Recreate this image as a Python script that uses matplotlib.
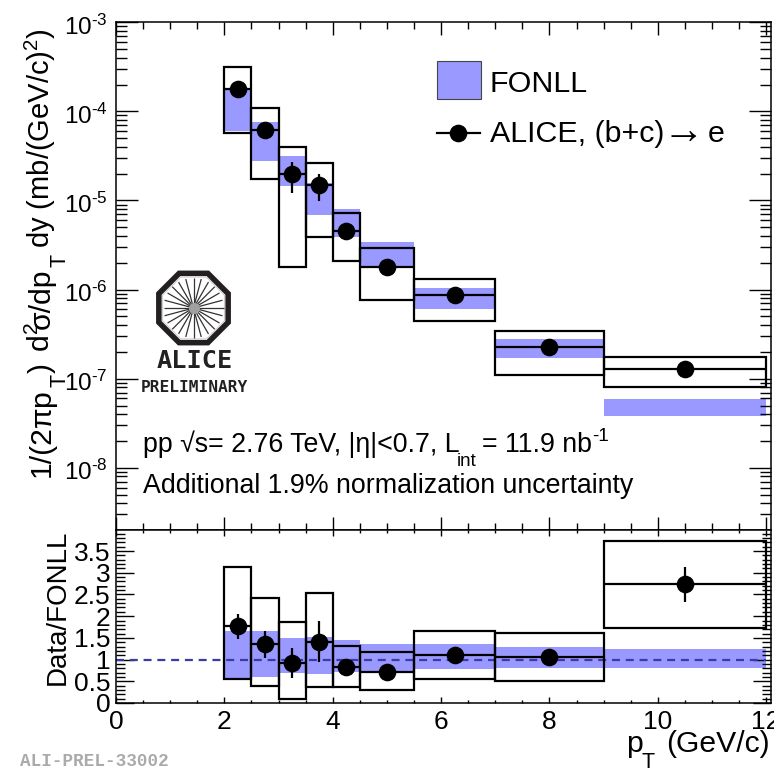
import numpy as np
import matplotlib
matplotlib.use("Agg")
import matplotlib.pyplot as plt
from matplotlib.patches import Rectangle, RegularPolygon
from matplotlib.ticker import FixedLocator, LogLocator, NullFormatter
from matplotlib.transforms import ScaledTranslation

plt.rcParams.update({
    "font.family": ["Liberation Sans", "DejaVu Sans"],
    "mathtext.fontset": "custom",
    "mathtext.rm": "Liberation Sans",
    "mathtext.it": "Liberation Sans",
    "mathtext.bf": "Liberation Sans:bold",
    "mathtext.default": "regular",
    "axes.linewidth": 1.1,
})

# ── Data ──────────────────────────────────────────────────────
bin_edges = [2, 2.5, 3, 3.5, 4, 4.5, 5.5, 7, 9, 12]
pt_centers = [2.25, 2.75, 3.25, 3.75, 4.25, 5, 6.25, 8, 10.5]

xsec = [1.78e-4, 6.12e-5, 1.96e-5, 1.49e-5, 4.52e-6, 1.78e-6, 8.79e-7, 2.26e-7, 1.29e-7]
xsec_stat_hi = [1.95e-4, 7.0e-5, 2.67e-5, 1.96e-5, 4.8e-6, 1.85e-6, 9.1e-7, 2.35e-7, 1.35e-7]
xsec_stat_lo = [1.6e-4, 4.9e-5, 1.2e-5, 9.75e-6, 4.2e-6, 1.7e-6, 8.5e-7, 2.15e-7, 1.2e-7]
xsec_sys_hi = [3.17e-4, 1.10e-4, 3.94e-5, 2.62e-5, 7.33e-6, 2.91e-6, 1.33e-6, 3.46e-7, 1.77e-7]
xsec_sys_lo = [5.66e-5, 1.73e-5, 1.79e-6, 3.94e-6, 2.08e-6, 7.59e-7, 4.44e-7, 1.11e-7, 8.13e-8]
fonll_hi = [1.78e-4, 7.58e-5, 3.15e-5, 1.56e-5, 7.93e-6, 3.4e-6, 1.05e-6, 2.77e-7, 5.85e-8]
fonll_lo = [6.05e-5, 2.79e-5, 1.46e-5, 6.88e-6, 3.9e-6, 1.78e-6, 6.05e-7, 1.7e-7, 3.8e-8]

ratio = [1.77, 1.35, 0.92, 1.41, 0.82, 0.72, 1.11, 1.05, 2.73]
ratio_stat_hi = [2.04, 1.66, 1.27, 1.88, 0.90, 0.78, 1.16, 1.09, 3.13]
ratio_stat_lo = [1.48, 1.03, 0.58, 0.94, 0.74, 0.66, 1.06, 1.01, 2.32]
ratio_sys_hi = [3.13, 2.43, 1.86, 2.53, 1.31, 1.18, 1.67, 1.61, 3.73]
ratio_sys_lo = [0.55, 0.39, 0.085, 0.37, 0.37, 0.31, 0.56, 0.51, 1.73]
ratio_fonll_hi = [1.67, 1.67, 1.49, 1.53, 1.44, 1.37, 1.35, 1.28, 1.24]
ratio_fonll_lo = [0.55, 0.60, 0.68, 0.67, 0.71, 0.72, 0.79, 0.81, 0.81]

y_decades = [1e-8, 1e-7, 1e-6, 1e-5, 1e-4, 1e-3]
y_decade_labels = ["8", "7", "6", "5", "4", "3"]
ratio_ticks = [0, 0.5, 1, 1.5, 2, 2.5, 3, 3.5]
ratio_tick_labels = ["0", "0.5", "1", "1.5", "2", "2.5", "3", "3.5"]
x_ticks = [0, 2, 4, 6, 8, 10, 12]

BAND = "#9999ff"
DASH = "#3b3ba6"
W, H = 774, 768
LABEL_FS = 21.7
NOTE_FS = 19.3
LEGEND_FS = 21.9


def px_axes(left, top, right, bottom):
    return fig.add_axes([left / W, 1 - bottom / H, (right - left) / W, (bottom - top) / H])


def draw_measurement(ax, val, st_hi, st_lo, sy_hi, sy_lo, band_hi, band_lo):
    lefts = np.array(bin_edges[:-1])
    widths = np.diff(bin_edges)
    band_hi, band_lo = np.array(band_hi), np.array(band_lo)
    sy_hi, sy_lo = np.array(sy_hi), np.array(sy_lo)
    ax.bar(lefts, band_hi - band_lo, widths, bottom=band_lo, align="edge",
           color=BAND, linewidth=0, zorder=1)
    ax.bar(lefts, sy_hi - sy_lo, widths, bottom=sy_lo, align="edge",
           fill=False, edgecolor="black", linewidth=1.6, zorder=3)
    ax.hlines(val, lefts, lefts + widths, color="black", linewidth=1.6, zorder=3)
    ax.vlines(pt_centers, st_lo, st_hi, color="black", linewidth=1.6, zorder=4)
    ax.plot(pt_centers, val, "o", color="black", markersize=12.7, markeredgewidth=0, zorder=5)


def vtext(x, y, s, size):
    # rotated text, x is the baseline and y where the text starts
    ov.text(x, y, s, rotation=90, rotation_mode="anchor", ha="left", va="baseline", fontsize=size)


def htext(x, y, s, size, ha="left"):
    ov.text(x, y, s, ha=ha, va="baseline", fontsize=size)


fig = plt.figure(figsize=(W / 100, H / 100), dpi=100, facecolor="white")

# ── Spectrum panel ────────────────────────────────────────────
ax = px_axes(116, 22.3, 771, 529.5)
ax.set_yscale("log")
draw_measurement(ax, xsec, xsec_stat_hi, xsec_stat_lo, xsec_sys_hi, xsec_sys_lo, fonll_hi, fonll_lo)
ax.set_xlim(0, 12.09)
ax.set_ylim(2.03e-9, 1e-3)
ax.set_xticks(x_ticks)
ax.xaxis.set_minor_locator(FixedLocator(np.arange(0, 12.01, 0.5)))
ax.tick_params(axis="x", which="major", direction="in", top=True, bottom=True,
               length=9.4, width=1.0, labelbottom=False)
ax.tick_params(axis="x", which="minor", direction="in", top=True, bottom=True, length=4.7, width=1.0)
ax.set_yticks(y_decades)
ax.set_yticklabels([rf"$10^{{\text{{-{e}}}}}$" for e in y_decade_labels], fontsize=17.5)
ax.yaxis.set_minor_locator(LogLocator(base=10, subs=np.arange(2, 10), numticks=12))
ax.yaxis.set_minor_formatter(NullFormatter())
ax.tick_params(axis="y", which="major", direction="in", left=True, right=True,
               length=15.8, width=1.0, pad=6)
ax.tick_params(axis="y", which="minor", direction="in", left=True, right=True, length=7.9, width=1.0)
for lab in ax.get_yticklabels():
    lab.set_transform(lab.get_transform() + ScaledTranslation(0, -2.5 / 100, fig.dpi_scale_trans))

# ── Ratio panel ───────────────────────────────────────────────
rax = px_axes(116, 530, 771, 703)
draw_measurement(rax, ratio, ratio_stat_hi, ratio_stat_lo, ratio_sys_hi, ratio_sys_lo,
                 ratio_fonll_hi, ratio_fonll_lo)
rax.hlines(1, 0, 12, color=DASH, linewidth=1.6, linestyles=(0, (3.6, 2.6)), zorder=2)
rax.set_xlim(0, 12.09)
rax.set_ylim(0, 3.985)
rax.set_xticks(x_ticks)
rax.set_xticklabels([str(t) for t in x_ticks], fontsize=19)
rax.xaxis.set_minor_locator(FixedLocator(np.arange(0, 12.01, 0.5)))
rax.tick_params(axis="x", which="major", direction="in", top=True, bottom=True,
                length=4.2, width=1.0, pad=5)
rax.tick_params(axis="x", which="minor", direction="in", top=True, bottom=True, length=2.2, width=1.0)
rax.set_yticks(ratio_ticks)
rax.set_yticklabels(ratio_tick_labels, fontsize=19)
rax.yaxis.set_minor_locator(FixedLocator(np.arange(0, 3.95, 0.1)))
rax.tick_params(axis="y", which="major", direction="in", left=True, right=True,
                length=13, width=1.0, pad=4)
rax.tick_params(axis="y", which="minor", direction="in", left=True, right=True, length=6.5, width=1.0)

# ── Overlay in picture pixels: labels, legend, logo ───────────
ov = fig.add_axes([0, 0, 1, 1], zorder=10)
ov.set_xlim(0, W)
ov.set_ylim(H, 0)
ov.axis("off")

# y title, in pieces because the subscripts hang well below the baseline
vtext(50, 477, "1/(2π", LABEL_FS)
vtext(50, 407, "p", LABEL_FS)
vtext(65, 387, "T", 15.5)
vtext(50, 373, ")", LABEL_FS)
vtext(50, 352, r"d$^{2}$", LABEL_FS)
vtext(50, 329, "σ/dp", LABEL_FS)
vtext(65, 267, "T", 15.5)
vtext(50, 248, r"dy (mb/(GeV/c)$^{2}$)", 21)

ov.text(65, 685, "Data/FONLL", rotation=90, rotation_mode="anchor", ha="left", va="baseline", fontsize=20)

# x title
htext(626, 752, "p", LABEL_FS)
htext(642, 768, "T", 15.5)
htext(770, 752, "(GeV/c)", LABEL_FS, ha="right")

ov.text(20, 762, "ALI-PREL-33002", family="Liberation Mono", weight="bold",
        fontsize=12.7, color="#aaaaaa", ha="left", va="center")

# legend
ov.add_patch(Rectangle((436.7, 60.7), 44.5, 38, facecolor=BAND, edgecolor="#444444", linewidth=0.8))
htext(490, 92.3, "FONLL", LEGEND_FS)
ov.plot([436.7, 480], [133, 133], color="black", linewidth=1.6)
ov.plot([458], [133], "o", color="black", markersize=12.7, markeredgewidth=0)
htext(490, 141.7, "ALICE, (b+c)", LEGEND_FS)
ov.text(683, 132, "→", fontsize=30, ha="center", va="center")
htext(708, 141.7, "e", LEGEND_FS)

# annotations
htext(143, 452, "pp √s= 2.76 TeV, |η|<0.7, L", NOTE_FS)
htext(457, 466, "int", 13.5)
htext(482, 452, "= 11.9 nb", NOTE_FS)
htext(592, 441, "-1", 13.5)
htext(143, 493, "Additional 1.9% normalization uncertainty", NOTE_FS)

# ALICE logo
cx, cy = 193.5, 308
ov.add_patch(RegularPolygon((cx, cy), 8, radius=37.5, orientation=np.pi / 8,
                            facecolor="white", edgecolor="#231f20", linewidth=4.0))
ov.add_patch(RegularPolygon((cx, cy), 8, radius=33.5, orientation=np.pi / 8,
                            facecolor="none", edgecolor="#cccccc", linewidth=0.8))
for a in np.linspace(0, 2 * np.pi, 24, endpoint=False):
    ov.plot([cx + 3 * np.cos(a), cx + 30 * np.cos(a)], [cy + 3 * np.sin(a), cy + 30 * np.sin(a)],
            color="#333333", linewidth=0.9, solid_capstyle="butt")
ov.plot([cx], [cy], "o", color="#a0a0a0", markersize=8, markeredgewidth=0)
ov.text(195, 361, "ALICE", family="DejaVu Sans Mono", weight="bold", fontsize=18.2,
        ha="center", va="center", color="#222222")
ov.text(194, 387, "PRELIMINARY", family="DejaVu Sans Mono", weight="bold", fontsize=11.7,
        ha="center", va="center", color="#222222")

fig.savefig("out.png", dpi=100)
